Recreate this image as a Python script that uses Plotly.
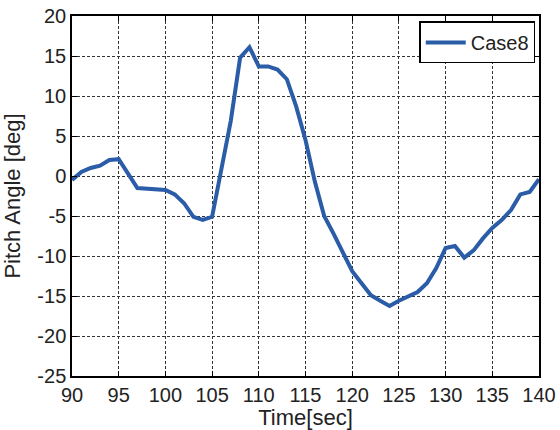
import plotly.graph_objects as go

# Pitch angle history for Case8
time_sec = [90, 91, 92, 93, 94, 95, 97, 98, 100, 101, 102, 103, 104, 105,
            106, 107, 108, 109, 110, 111, 112, 113, 114, 115, 116, 117, 118,
            119, 120, 121, 122, 123, 124, 125, 126, 127, 128, 129, 130, 131,
            132, 133, 134, 135, 136, 137, 138, 139, 140]
pitch_deg = [-0.5, 0.5, 1.0, 1.3, 2.0, 2.1, -1.5, -1.6, -1.75, -2.3, -3.4, -5.1, -5.5, -5.1,
             0.6, 6.9, 14.8, 16.1, 13.7, 13.7, 13.3, 12.1, 8.7, 4.5, -0.7, -5.0, -7.2,
             -9.6, -11.9, -13.4, -14.9, -15.6, -16.25, -15.6, -15.0, -14.5, -13.4, -11.5, -9.0, -8.75,
             -10.2, -9.3, -7.8, -6.5, -5.5, -4.25, -2.3, -2.0, -0.4]

x_ticks = list(range(90, 141, 5))
y_ticks = list(range(-25, 21, 5))
# plain hyphen-minus labels for the pitch axis
y_tick_labels = [str(v) for v in y_ticks]

font_family = "Liberation Sans, Arial, sans-serif"
text_color = "#222222"

fig = go.Figure()
fig.add_trace(go.Scatter(
    x=time_sec, y=pitch_deg, mode="lines", name="Case8",
    line=dict(color="#2b5ca8", width=4),
))

axis_common = dict(
    automargin=False,
    showline=True, linecolor="black", linewidth=1.5, mirror="ticks",
    ticks="inside", ticklen=5, tickcolor="black", tickwidth=1,
    showgrid=True, gridcolor="#333333", gridwidth=1, griddash="3px,2px",
    zeroline=False, tickfont=dict(size=20, color=text_color, family=font_family),
)

fig.update_xaxes(range=[90, 140], tickvals=x_ticks,
                 title=dict(text="Time[sec]", font=dict(size=22, color=text_color, family=font_family)),
                 **axis_common)
fig.update_yaxes(range=[-25, 20], tickvals=y_ticks, ticktext=y_tick_labels,
                 title=dict(text="Pitch Angle [deg]", font=dict(size=22, color=text_color, family=font_family)),
                 **axis_common)

fig.update_layout(
    width=560, height=430, autosize=False,
    margin=dict(l=72, r=21, t=16, b=54),
    paper_bgcolor="white", plot_bgcolor="white",
    font=dict(family=font_family, color=text_color),
    showlegend=True,
    legend=dict(x=0.992, y=0.985, xanchor="right", yanchor="top",
                bgcolor="white", bordercolor="black", borderwidth=1.5,
                font=dict(size=20, color=text_color, family=font_family),
                itemwidth=40, tracegroupgap=0),
)

fig.write_html("out.html")
